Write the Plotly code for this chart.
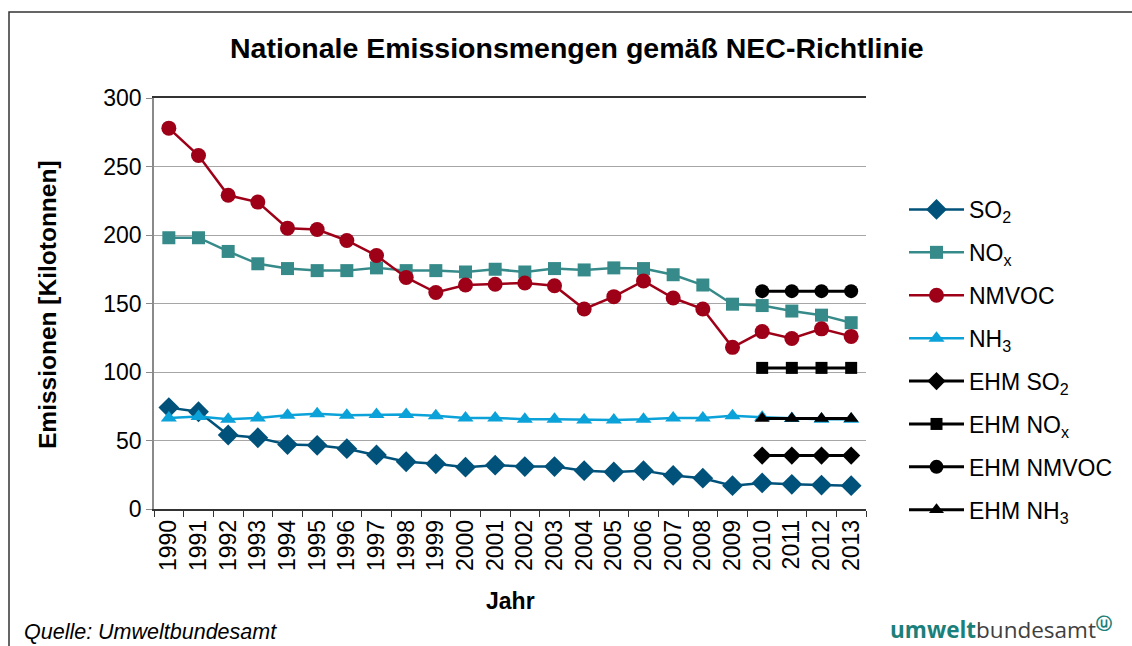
import plotly.graph_objects as go

years = [str(y) for y in range(1990, 2014)]
ehm_years = ["2010", "2011", "2012", "2013"]

so2 = [74, 71, 54, 52, 47, 46.5, 44, 39.5, 34.5, 33, 30.5, 32, 31, 31, 28, 27, 28, 24.5, 22.5, 17, 19, 18, 17.5, 17]
nox = [198, 198, 188, 179, 175.5, 174, 174, 176, 174, 174, 173, 175, 173, 175.5, 174.5, 176, 175.5, 171, 163.5, 149.5, 148.5, 144.5, 141.5, 136]
nmvoc = [278, 258, 229, 224, 205, 204, 196, 185, 169, 158, 163.5, 164, 165, 163, 146, 155, 166.5, 154, 146, 118, 129.5, 124.5, 131.5, 126]
nh3 = [66.5, 67.5, 65.5, 66.5, 68.5, 69.5, 68.5, 69, 69, 68, 66.5, 66.5, 65.5, 65.5, 65, 65, 65.5, 66.5, 66.5, 68, 67, 66, 65.5, 65.5]

ehm_so2 = [39, 39, 39, 39]
ehm_nox = [103, 103, 103, 103]
ehm_nmvoc = [159, 159, 159, 159]
ehm_nh3 = [66, 66, 66, 66]

W, H = 1132, 646
L, R, T, B = 154, 866, 98, 509


def px(x):
    return (x - L) / (R - L)


def py(y):
    return (B - y) / (B - T)


series = [
    ("SO<sub>2</sub>", years, so2, "#00527a", "diamond", 16, 2.5),
    ("NO<sub>x</sub>", years, nox, "#368b8a", "square", 13, 2.5),
    ("NMVOC", years, nmvoc, "#9e0018", "circle", 15, 2.5),
    ("NH<sub>3</sub>", years, nh3, "#0aa2d8", "triangle-up", 14, 2.5),
    ("EHM SO<sub>2</sub>", ehm_years, ehm_so2, "#000000", "diamond", 14, 3),
    ("EHM NO<sub>x</sub>", ehm_years, ehm_nox, "#000000", "square", 12, 3),
    ("EHM NMVOC", ehm_years, ehm_nmvoc, "#000000", "circle", 14, 3),
    ("EHM NH<sub>3</sub>", ehm_years, ehm_nh3, "#000000", "triangle-up", 13, 3),
]

fig = go.Figure()
for i, (name, xs, ys, col, sym, size, lw) in enumerate(series):
    fig.add_trace(go.Scatter(
        x=xs, y=ys, name=name, mode="lines+markers",
        line=dict(color=col, width=lw),
        marker=dict(symbol=sym, size=size, color=col),
        legendgroup=f"g{i}",
    ))

font_family = "Liberation Sans, Arial, sans-serif"

fig.update_layout(
    width=W, height=H,
    margin=dict(l=L, r=W - R, t=T, b=H - B),
    paper_bgcolor="white", plot_bgcolor="white",
    font=dict(family=font_family, color="#000000", size=23),
    showlegend=True,
    legend=dict(
        x=px(904), y=py(188), xanchor="left", yanchor="top",
        font=dict(size=23, family=font_family),
        tracegroupgap=10, bgcolor="rgba(0,0,0,0)",
        itemwidth=55,
    ),
    xaxis=dict(
        type="category", categoryorder="array", categoryarray=years,
        range=[-0.5, 23.5], tickangle=-90, tickson="boundaries",
        ticks="outside", ticklen=6, tickcolor="#333333",
        showline=True, linecolor="#333333", linewidth=1.5, mirror=True,
        showgrid=False, tickfont=dict(size=23), fixedrange=True,
    ),
    yaxis=dict(
        range=[0, 300], dtick=50, ticks="outside", ticklen=6,
        tickcolor="#8a8a8a", showline=True, linecolor="#8a8a8a",
        linewidth=1.5, showgrid=True, gridcolor="#a6a6a6", gridwidth=1.2,
        zeroline=False, tickfont=dict(size=23), fixedrange=True,
    ),
    annotations=[
        dict(text="<b>Nationale Emissionsmengen gemäß NEC-Richtlinie</b>",
             x=px(577), y=py(48), xref="paper", yref="paper",
             showarrow=False, font=dict(size=28.5), xanchor="center", yanchor="middle"),
        dict(text="<b>Emissionen [Kilotonnen]</b>", textangle=-90,
             x=px(47), y=py(305), xref="paper", yref="paper",
             showarrow=False, font=dict(size=24.5), xanchor="center", yanchor="middle"),
        dict(text="<b>Jahr</b>", x=px(510), y=py(601), xref="paper", yref="paper",
             showarrow=False, font=dict(size=23), xanchor="center", yanchor="middle"),
        dict(text="<i>Quelle: Umweltbundesamt</i>", x=px(22), y=py(632),
             xref="paper", yref="paper", showarrow=False, font=dict(size=21.5),
             xanchor="left", yanchor="middle"),
        dict(text="<b><span style='color:#1a8079'>umwelt</span></b>"
                  "<span style='color:#404040'>bundesamt</span>"
                  "<sup><b><span style='color:#1a8079'>ⓤ</span></b></sup>",
             x=px(1114), y=py(628), xref="paper", yref="paper", showarrow=False,
             font=dict(size=22.5, family="Open Sans, Liberation Sans, sans-serif"),
             xanchor="right", yanchor="middle"),
    ],
    shapes=[
        dict(type="rect", xref="paper", yref="paper",
             x0=px(9), x1=px(1150), y0=py(12), y1=py(660),
             line=dict(color="#333333", width=1.5), layer="below"),
    ],
)

fig.write_html("out.html", config={"displayModeBar": False},
               post_script="document.body.style.margin='0';document.body.style.overflow='hidden';")
